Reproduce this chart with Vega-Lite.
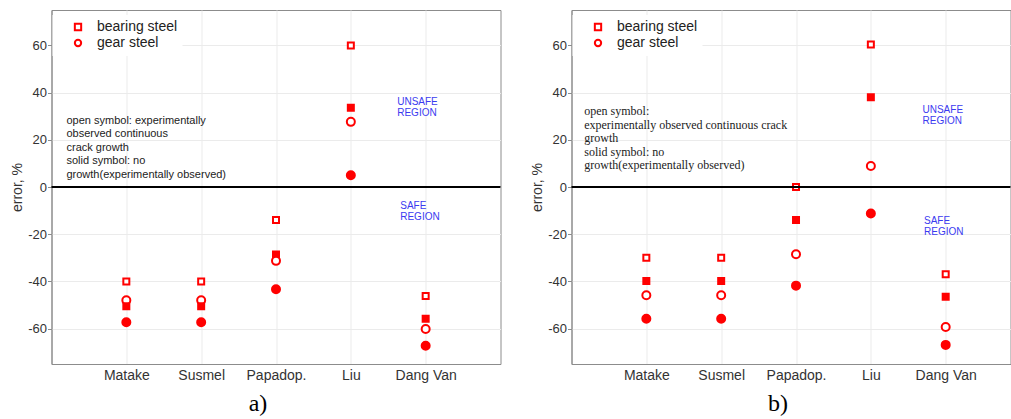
{
  "$schema": "https://vega.github.io/schema/vega-lite/v6.json",
  "background": "white",
  "padding": {"left": 9.5, "top": 9, "right": 0, "bottom": 0},
  "spacing": 27,
  "config": {
    "view": {"stroke": "#8c8c8c", "strokeWidth": 1},
    "axis": {
      "labelFont": "Liberation Sans", "titleFont": "Liberation Sans",
      "labelColor": "#333333", "titleColor": "#333333", "titleFontWeight": "normal",
      "gridColor": "#ebebeb", "domainColor": "#8c8c8c", "tickColor": "#8c8c8c"
    },
    "title": {"font": "Liberation Serif", "fontSize": 24, "fontWeight": "normal", "color": "#000000"}
  },
  "datasets": {
    "a": [
      {"method": 1, "material": "bearing steel", "growth": "open", "error": -40},
      {"method": 1, "material": "gear steel", "growth": "open", "error": -48},
      {"method": 1, "material": "bearing steel", "growth": "solid", "error": -50.5},
      {"method": 1, "material": "gear steel", "growth": "solid", "error": -57.3},
      {"method": 2, "material": "bearing steel", "growth": "open", "error": -40},
      {"method": 2, "material": "gear steel", "growth": "open", "error": -48},
      {"method": 2, "material": "bearing steel", "growth": "solid", "error": -50.5},
      {"method": 2, "material": "gear steel", "growth": "solid", "error": -57.3},
      {"method": 3, "material": "bearing steel", "growth": "open", "error": -14},
      {"method": 3, "material": "bearing steel", "growth": "solid", "error": -28.6},
      {"method": 3, "material": "gear steel", "growth": "open", "error": -31.3},
      {"method": 3, "material": "gear steel", "growth": "solid", "error": -43.3},
      {"method": 4, "material": "bearing steel", "growth": "open", "error": 60},
      {"method": 4, "material": "bearing steel", "growth": "solid", "error": 33.6},
      {"method": 4, "material": "gear steel", "growth": "open", "error": 27.6},
      {"method": 4, "material": "gear steel", "growth": "solid", "error": 5},
      {"method": 5, "material": "bearing steel", "growth": "open", "error": -46.2},
      {"method": 5, "material": "bearing steel", "growth": "solid", "error": -55.8},
      {"method": 5, "material": "gear steel", "growth": "open", "error": -60.2},
      {"method": 5, "material": "gear steel", "growth": "solid", "error": -67.3}
    ],
    "b": [
      {"method": 1, "material": "bearing steel", "growth": "open", "error": -30},
      {"method": 1, "material": "bearing steel", "growth": "solid", "error": -39.8},
      {"method": 1, "material": "gear steel", "growth": "open", "error": -45.9},
      {"method": 1, "material": "gear steel", "growth": "solid", "error": -55.8},
      {"method": 2, "material": "bearing steel", "growth": "open", "error": -30},
      {"method": 2, "material": "bearing steel", "growth": "solid", "error": -39.8},
      {"method": 2, "material": "gear steel", "growth": "open", "error": -45.9},
      {"method": 2, "material": "gear steel", "growth": "solid", "error": -55.8},
      {"method": 3, "material": "bearing steel", "growth": "open", "error": 0},
      {"method": 3, "material": "bearing steel", "growth": "solid", "error": -14},
      {"method": 3, "material": "gear steel", "growth": "open", "error": -28.5},
      {"method": 3, "material": "gear steel", "growth": "solid", "error": -41.8},
      {"method": 4, "material": "bearing steel", "growth": "open", "error": 60.4},
      {"method": 4, "material": "bearing steel", "growth": "solid", "error": 38},
      {"method": 4, "material": "gear steel", "growth": "open", "error": 8.9},
      {"method": 4, "material": "gear steel", "growth": "solid", "error": -11.2},
      {"method": 5, "material": "bearing steel", "growth": "open", "error": -37},
      {"method": 5, "material": "bearing steel", "growth": "solid", "error": -46.5},
      {"method": 5, "material": "gear steel", "growth": "open", "error": -59.3},
      {"method": 5, "material": "gear steel", "growth": "solid", "error": -66.9}
    ]
  },
  "hconcat": [
    {
      "width": 449,
      "height": 354,
      "title": {"text": "a)", "orient": "bottom", "anchor": "middle", "dx": -18, "offset": 10},
      "layer": [
        {
          "data": {"name": "a"},
          "mark": {"type": "point", "filled": true, "stroke": "#ff0000", "strokeWidth": 2, "opacity": 1},
          "encoding": {
            "x": {"field": "method", "type": "quantitative", "scale": {"domain": [0, 6], "nice": false, "zero": false},
              "axis": {"values": [1, 2, 3, 4, 5], "labelExpr": "['','Matake','Susmel','Papadop.','Liu','Dang Van'][datum.value]", "title": null, "ticks": false, "labelPadding": 4, "labelFontSize": 14, "grid": true}},
            "y": {"field": "error", "type": "quantitative", "scale": {"domain": [-75, 75], "nice": false, "zero": false},
              "axis": {"values": [-60, -40, -20, 0, 20, 40, 60], "labelExpr": "'' + datum.value", "title": "error, %", "titleFontSize": 14, "titlePadding": 3, "labelFontSize": 13, "tickSize": 4, "labelPadding": 1, "grid": true}},
            "shape": {"field": "material", "type": "nominal", "scale": {"domain": ["bearing steel", "gear steel"], "range": ["square", "circle"]},
              "legend": {"title": null, "orient": "none", "legendX": 1, "legendY": 5, "padding": 5, "fillColor": "white", "symbolOffset": 13.5, "symbolSize": 40, "symbolStrokeColor": "#ff0000", "symbolFillColor": "white", "symbolStrokeWidth": 2, "labelFont": "Liberation Sans", "labelFontSize": 14, "labelColor": "#222222", "labelOffset": 12, "rowPadding": 0}},
            "size": {"condition": {"test": "datum.material === 'gear steel'", "value": 64}, "value": 36},
            "fill": {"field": "growth", "type": "nominal", "scale": {"domain": ["open", "solid"], "range": ["white", "#ff0000"]}, "legend": null}
          }
        },
        {
          "data": {"values": [{}]},
          "mark": {"type": "rule", "color": "#000000", "strokeWidth": 2},
          "encoding": {"y": {"datum": 0, "type": "quantitative"}}
        },
        {
          "data": {"values": [{}]},
          "mark": {"type": "text", "text": ["open symbol: experimentally", "observed continuous", "crack growth", "solid symbol: no", "growth(experimentally observed)"], "align": "left", "baseline": "middle", "font": "Liberation Sans", "fontSize": 11, "lineHeight": 13.4, "color": "#222222"},
          "encoding": {"x": {"datum": 0.2, "type": "quantitative"}, "y": {"datum": 28, "type": "quantitative"}}
        },
        {
          "data": {"values": [{}]},
          "mark": {"type": "text", "text": ["UNSAFE", "REGION"], "align": "left", "baseline": "middle", "font": "Liberation Sans", "fontSize": 10, "lineHeight": 11, "color": "#3b3bf0"},
          "encoding": {"x": {"datum": 4.62, "type": "quantitative"}, "y": {"datum": 35.9, "type": "quantitative"}}
        },
        {
          "data": {"values": [{}]},
          "mark": {"type": "text", "text": ["SAFE", "REGION"], "align": "left", "baseline": "middle", "font": "Liberation Sans", "fontSize": 10, "lineHeight": 11, "color": "#3b3bf0"},
          "encoding": {"x": {"datum": 4.66, "type": "quantitative"}, "y": {"datum": -7.9, "type": "quantitative"}}
        }
      ]
    },
    {
      "width": 439,
      "height": 354,
      "title": {"text": "b)", "orient": "bottom", "anchor": "middle", "dx": -13, "offset": 10},
      "layer": [
        {
          "data": {"name": "b"},
          "mark": {"type": "point", "filled": true, "stroke": "#ff0000", "strokeWidth": 2, "opacity": 1},
          "encoding": {
            "x": {"field": "method", "type": "quantitative", "scale": {"domain": [0, 5.866], "nice": false, "zero": false},
              "axis": {"values": [1, 2, 3, 4, 5], "labelExpr": "['','Matake','Susmel','Papadop.','Liu','Dang Van'][datum.value]", "title": null, "ticks": false, "labelPadding": 4, "labelFontSize": 14, "grid": true}},
            "y": {"field": "error", "type": "quantitative", "scale": {"domain": [-75, 75], "nice": false, "zero": false},
              "axis": {"values": [-60, -40, -20, 0, 20, 40, 60], "labelExpr": "'' + datum.value", "title": "error, %", "titleFontSize": 14, "titlePadding": 3, "labelFontSize": 13, "tickSize": 4, "labelPadding": 1, "grid": true}},
            "shape": {"field": "material", "type": "nominal", "scale": {"domain": ["bearing steel", "gear steel"], "range": ["square", "circle"]},
              "legend": {"title": null, "orient": "none", "legendX": 1, "legendY": 5, "padding": 5, "fillColor": "white", "symbolOffset": 13.5, "symbolSize": 40, "symbolStrokeColor": "#ff0000", "symbolFillColor": "white", "symbolStrokeWidth": 2, "labelFont": "Liberation Sans", "labelFontSize": 14, "labelColor": "#222222", "labelOffset": 12, "rowPadding": 0}},
            "size": {"condition": {"test": "datum.material === 'gear steel'", "value": 64}, "value": 36},
            "fill": {"field": "growth", "type": "nominal", "scale": {"domain": ["open", "solid"], "range": ["white", "#ff0000"]}, "legend": null}
          }
        },
        {
          "data": {"values": [{}]},
          "mark": {"type": "rule", "color": "#000000", "strokeWidth": 2},
          "encoding": {"y": {"datum": 0, "type": "quantitative"}}
        },
        {
          "data": {"values": [{}]},
          "mark": {"type": "text", "text": ["open symbol:", "experimentally observed continuous crack", "growth", "solid symbol: no", "growth(experimentally observed)"], "align": "left", "baseline": "middle", "font": "Liberation Serif", "fontSize": 12, "lineHeight": 13.5, "color": "#222222"},
          "encoding": {"x": {"datum": 0.17, "type": "quantitative"}, "y": {"datum": 32.1, "type": "quantitative"}}
        },
        {
          "data": {"values": [{}]},
          "mark": {"type": "text", "text": ["UNSAFE", "REGION"], "align": "left", "baseline": "middle", "font": "Liberation Sans", "fontSize": 10, "lineHeight": 11, "color": "#3b3bf0"},
          "encoding": {"x": {"datum": 4.69, "type": "quantitative"}, "y": {"datum": 32.5, "type": "quantitative"}}
        },
        {
          "data": {"values": [{}]},
          "mark": {"type": "text", "text": ["SAFE", "REGION"], "align": "left", "baseline": "middle", "font": "Liberation Sans", "fontSize": 10, "lineHeight": 11, "color": "#3b3bf0"},
          "encoding": {"x": {"datum": 4.71, "type": "quantitative"}, "y": {"datum": -14.3, "type": "quantitative"}}
        }
      ]
    }
  ],
  "resolve": {"scale": {"x": "independent", "y": "independent", "shape": "independent", "fill": "independent"}, "legend": {"shape": "independent"}}
}
